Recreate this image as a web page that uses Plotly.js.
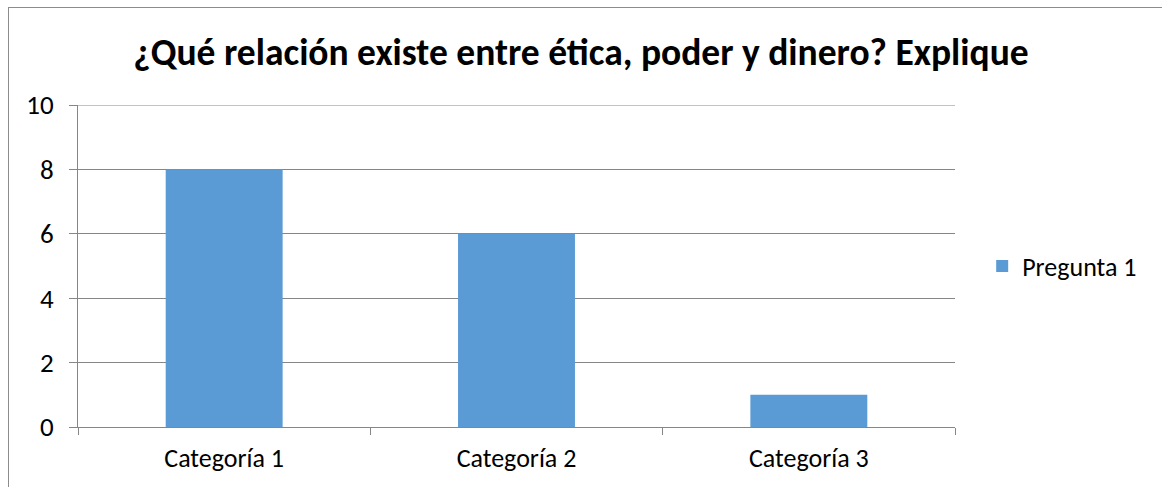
<!DOCTYPE html>
<html><head><meta charset="utf-8">
<script src="https://cdn.plot.ly/plotly-3.0.1.min.js"></script>
<style>
html,body{margin:0;padding:0;width:1162px;height:487px;overflow:hidden;background:#fff;}
#frame{position:absolute;left:8px;top:7px;width:1200px;height:520px;border:1px solid #8c8c8c;box-sizing:border-box;pointer-events:none;z-index:5;}
#chart{position:absolute;left:0;top:0;width:1162px;height:487px;}
</style></head>
<body>
<div id="chart"></div>
<div id="frame"></div>
<script>
const categories = ["Categoría 1", "Categoría 2", "Categoría 3"];
const seriesName = "Pregunta 1";
const values = [8, 6, 1];
const yTicks = [0, 2, 4, 6, 8, 10];
const titleText = "¿Qué relación existe entre ética, poder y dinero? Explique";

const fontFam = "Carlito, Calibri, 'Open Sans', sans-serif";
Plotly.newPlot('chart', [{
  type: 'bar', x: categories, y: values, name: seriesName,
  marker: {color: '#5B9BD5'}, showlegend: true
}], {
  width: 1162, height: 487,
  margin: {l: 78, r: 207, t: 105, b: 60, pad: 0},
  paper_bgcolor: '#fff', plot_bgcolor: '#fff',
  font: {family: fontFam, color: '#000', size: 26},
  title: {text: '<b>' + titleText + '</b>', font: {size: 37.5, family: fontFam, color: '#000'}, x: 0.5, xanchor: 'center', y: 0.893, yanchor: 'middle'},
  bargap: 0.6,
  showlegend: true,
  legend: {x: 1.031, xanchor: 'left', y: 0.5, yanchor: 'middle', font: {size: 26}, itemwidth: 30},
  shapes: [{type: 'line', xref: 'paper', yref: 'y', x0: 0, x1: 1, y0: yTicks[yTicks.length-1], y1: yTicks[yTicks.length-1], line: {color: '#868686', width: 1}}],
  xaxis: {type: 'category', range: [-0.5, 2.5], showline: true, linecolor: '#868686', linewidth: 1,
          ticks: 'outside', tickson: 'boundaries', ticklen: 7, tickcolor: '#868686', showgrid: false,
          tickfont: {size: 26}, ticklabelstandoff: 8, fixedrange: true},
  yaxis: {range: [0, 10], tickvals: yTicks, showline: true, linecolor: '#868686', linewidth: 1,
          ticks: 'outside', ticklen: 8, tickcolor: '#868686', showgrid: true, gridcolor: '#868686', gridwidth: 1,
          zeroline: false, tickfont: {size: 27}, ticklabelstandoff: 10, fixedrange: true}
}, {displayModeBar: false, staticPlot: true});
</script>
</body></html>
